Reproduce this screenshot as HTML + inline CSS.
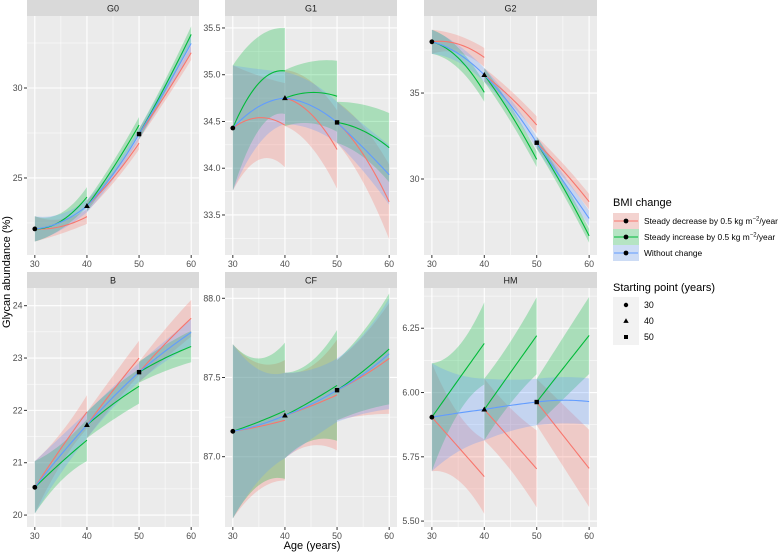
<!DOCTYPE html>
<html><head><meta charset="utf-8"><style>
body{margin:0;background:#fff;}
svg{display:block;font-family:"Liberation Sans",Arial,sans-serif;}
</style></head><body>
<svg id="chart" width="780" height="552" viewBox="0 0 780 552" xmlns="http://www.w3.org/2000/svg"></svg>
<script>
const panelNames=["G0","G1","G2","B","CF","HM"];
const yTicks=[[25,30],[33.5,34,34.5,35,35.5],[30,35],[20,21,22,23,24],[87,87.5,88],[5.5,5.75,6,6.25]];
const yTickLabels=[["25","30"],["33.5","34.0","34.5","35.0","35.5"],["30","35"],["20","21","22","23","24"],["87.0","87.5","88.0"],["5.50","5.75","6.00","6.25"]];
const yMinor=[[22.5,27.5,32.5],[33.25,33.75,34.25,34.75,35.25],[27.5,32.5,37.5],[20.5,21.5,22.5,23.5],[86.75,87.25,87.75],[5.625,5.875,6.125,6.375]];
const yDomains=[[20.72,34.0],[33.072,35.628],[25.58,39.48],[19.772,24.338],[86.556,88.065],[5.477,6.4065]];
const xTicks=[30,40,50,60];
const xMinor=[35,45,55];
const startAges=[30,40,50];
const startPts=[[22.17,23.44,27.44],[34.43,34.75,34.49],[37.98,36.05,32.11],[20.53,21.72,22.73],[87.16,87.26,87.42],[5.904,5.934,5.963]];
const redVals=[
 [[22.17,22.3,22.85],[23.44,25.0,26.93],[27.44,29.6,31.96]],
 [[34.43,34.54,34.46],[34.75,34.58,34.2],[34.49,34.15,33.64]],
 [[37.98,37.85,37.07],[36.05,34.75,33.14],[32.11,30.5,28.68]],
 [[20.53,21.27,21.97],[21.72,22.38,23.0],[22.73,23.27,23.76]],
 [[87.16,87.19,87.23],[87.26,87.32,87.39],[87.42,87.51,87.62]],
 [[5.904,5.789,5.673],[5.934,5.819,5.703],[5.963,5.834,5.705]]];
const greenVals=[
 [[22.17,22.6,23.94],[23.44,25.55,27.94],[27.44,30.1,32.98]],
 [[34.43,34.91,35.04],[34.75,34.81,34.77],[34.49,34.4,34.22]],
 [[37.98,37.05,35.04],[36.05,33.8,31.14],[32.11,29.55,26.69]],
 [[20.53,21.0,21.43],[21.72,22.12,22.46],[22.73,23.0,23.22]],
 [[87.16,87.22,87.29],[87.26,87.35,87.45],[87.42,87.54,87.68]],
 [[5.904,6.048,6.191],[5.934,6.078,6.221],[5.963,6.093,6.222]]];
const blueVals=[
 [22.17,22.55,23.44,25.2,27.44,29.9,32.48],
 [34.43,34.66,34.75,34.67,34.49,34.22,33.93],
 [37.98,37.3,36.05,34.3,32.11,29.9,27.71],
 [20.53,21.15,21.72,22.25,22.73,23.13,23.49],
 [87.16,87.2,87.26,87.33,87.42,87.52,87.65],
 [5.904,5.92,5.934,5.95,5.963,5.97,5.965]];
const redHW=[
 [[0.7,0.4,0.4],[0.3,0.3,0.35],[0.3,0.3,0.4]],
 [[0.67,0.45,0.45],[0.3,0.35,0.42],[0.22,0.3,0.4]],
 [[0.7,0.5,0.55],[0.4,0.4,0.5],[0.35,0.4,0.45]],
 [[0.5,0.3,0.32],[0.25,0.28,0.33],[0.2,0.28,0.35]],
 [[0.55,0.4,0.38],[0.27,0.25,0.35],[0.19,0.25,0.35]],
 [[0.21,0.13,0.145],[0.12,0.12,0.15],[0.09,0.12,0.15]]];
const greenHW=[
 [[0.7,0.45,0.55],[0.3,0.35,0.45],[0.3,0.35,0.45]],
 [[0.67,0.5,0.46],[0.3,0.33,0.38],[0.22,0.28,0.37]],
 [[0.7,0.6,0.55],[0.4,0.45,0.45],[0.35,0.4,0.4]],
 [[0.5,0.35,0.4],[0.25,0.3,0.33],[0.2,0.25,0.3]],
 [[0.55,0.4,0.43],[0.27,0.25,0.35],[0.19,0.25,0.35]],
 [[0.21,0.13,0.16],[0.12,0.12,0.15],[0.09,0.12,0.15]]];
const blueHW=[
 [0.7,0.45,0.35,0.3,0.3,0.35,0.45],
 [0.67,0.4,0.28,0.25,0.22,0.25,0.32],
 [0.7,0.5,0.4,0.35,0.35,0.4,0.45],
 [0.5,0.35,0.25,0.2,0.18,0.2,0.25],
 [0.55,0.35,0.27,0.22,0.2,0.25,0.35],
 [0.21,0.15,0.12,0.1,0.09,0.09,0.09]];
const seriesNames=["decrease","increase","no-change"];
const seriesColors=["#F8766D","#00BA38","#619CFF"];

const NS="http://www.w3.org/2000/svg";
const svg=document.getElementById("chart");
function mk(tag,attrs,parent){const e=document.createElementNS(NS,tag);for(const k in attrs)e.setAttribute(k,attrs[k]);(parent||svg).appendChild(e);return e;}
const colX=[[27,199],[225,397],[424,597]];
const rowY=[[16,255,0],[288,527,272]];
const xDom=[28.5,61.5];
function quad(v,t){const a=v[0],b=v[1],c=v[2];const s=t/10;return a*(1-s)*(1-2*s)+b*4*s*(1-s)+c*s*(2*s-1);}

panelNames.forEach((name,p)=>{
  const c=p%3,r=Math.floor(p/3);
  const [x0,x1]=colX[c];const [y0,y1,sy]=rowY[r];
  const X=v=>x0+(v-xDom[0])/(xDom[1]-xDom[0])*(x1-x0);
  const dom=yDomains[p];
  const Y=v=>y1-(v-dom[0])/(dom[1]-dom[0])*(y1-y0);
  const g=mk("g",{});
  
  
  const strip=mk("rect",{x:x0,y:sy,width:x1-x0,height:y0-sy,fill:"#D9D9D9"},g);
  
  
  const st=mk("text",{x:(x0+x1)/2,y:sy+11.5,"text-anchor":"middle","font-size":"9","fill":"#1A1A1A"},g);st.textContent=name;
  
  
  const bg=mk("rect",{x:x0,y:y0,width:x1-x0,height:y1-y0,fill:"#EBEBEB"},g);
  
  
  xMinor.forEach(v=>mk("line",{x1:X(v),x2:X(v),y1:y0,y2:y1,stroke:"#fff","stroke-width":0.5},g));
  yMinor[p].forEach(v=>{if(v>dom[0]&&v<dom[1])mk("line",{x1:x0,x2:x1,y1:Y(v),y2:Y(v),stroke:"#fff","stroke-width":0.5},g);});
  xTicks.forEach(v=>{
    mk("line",{x1:X(v),x2:X(v),y1:y0,y2:y1,stroke:"#fff","stroke-width":1.1},g);
    mk("line",{x1:X(v),x2:X(v),y1:y1,y2:y1+3,stroke:"#333","stroke-width":1},g);
    const t=mk("text",{x:X(v),y:y1+12,"text-anchor":"middle","font-size":"8.8",fill:"#4D4D4D"},g);t.textContent=v;
    
    
  });
  yTicks[p].forEach((v,i)=>{
    mk("line",{x1:x0,x2:x1,y1:Y(v),y2:Y(v),stroke:"#fff","stroke-width":1.1},g);
    mk("line",{x1:x0-3,x2:x0,y1:Y(v),y2:Y(v),stroke:"#333","stroke-width":1},g);
    const t=mk("text",{x:x0-4.5,y:Y(v)+3,"text-anchor":"end","font-size":"8.8",fill:"#4D4D4D"},g);t.textContent=yTickLabels[p][i];
    
    
  });
  const segs=[[],[],[]];
  for(let s=0;s<3;s++){
    segs[0].push({start:startAges[s],v:redVals[p][s],h:redHW[p][s]});
    segs[1].push({start:startAges[s],v:greenVals[p][s],h:greenHW[p][s]});
    const bv=blueVals[p],bh=blueHW[p];
    segs[2].push({start:startAges[s],v:[bv[2*s],bv[2*s+1],bv[2*s+2]],h:[bh[2*s],bh[2*s+1],bh[2*s+2]]});
  }
  const clipId="clip"+p;
  const cp=mk("clipPath",{id:clipId},g);mk("rect",{x:x0,y:y0,width:x1-x0,height:y1-y0},cp);
  const data=mk("g",{"clip-path":"url(#"+clipId+")"},g);
  segs.forEach((list,si)=>{list.forEach(sg=>{
    let up=[],dn=[];
    for(let k=0;k<=20;k++){const t=k/2;const m=quad(sg.v,t),h=quad(sg.h,t);
      up.push(X(sg.start+t).toFixed(2)+","+Y(m+h).toFixed(2));dn.unshift(X(sg.start+t).toFixed(2)+","+Y(m-h).toFixed(2));}
    const rb=mk("polygon",{points:up.concat(dn).join(" "),fill:seriesColors[si],"fill-opacity":0.28},data);
    
    
  });});
  segs.forEach((list,si)=>{list.forEach(sg=>{
    let pts=[];for(let k=0;k<=20;k++){const t=k/2;pts.push(X(sg.start+t).toFixed(2)+","+Y(quad(sg.v,t)).toFixed(2));}
    const ln=mk("polyline",{points:pts.join(" "),fill:"none",stroke:seriesColors[si],"stroke-width":1.1},data);
    
    
  });});
  startPts[p].forEach((v,i)=>{
    const px=X(startAges[i]),py=Y(v);let m;
    if(i===0)m=mk("circle",{cx:px,cy:py,r:2.4,fill:"#000"},g);
    else if(i===1)m=mk("polygon",{points:`${px},${py-3} ${px-2.9},${py+2} ${px+2.9},${py+2}`,fill:"#000"},g);
    else m=mk("rect",{x:px-2.2,y:py-2.2,width:4.4,height:4.4,fill:"#000"},g);
    
    
  });
});
const xt=mk("text",{x:312,y:549,"text-anchor":"middle","font-size":"11",fill:"#000"});xt.textContent="Age (years)";


const yt=mk("text",{x:0,y:0,transform:"translate(10,272) rotate(-90)","text-anchor":"middle","font-size":"11",fill:"#000"});yt.textContent="Glycan abundance (%)";


const lg=mk("g",{});


const lt=mk("text",{x:613,y:206,"font-size":"11",fill:"#000"},lg);lt.textContent="BMI change";
const legPre=["Steady decrease by 0.5 kg m","Steady increase by 0.5 kg m","Without change"];
const legSup=["\u22122","\u22122",""];
const legPost=["/year","/year",""];
legPre.forEach((lab,i)=>{
  const ey=213+i*16;
  const ent=mk("g",{},lg);
  
  
  mk("rect",{x:613,y:ey,width:26,height:16,fill:"#F2F2F2"},ent);
  mk("rect",{x:613,y:ey,width:26,height:16,fill:seriesColors[i],"fill-opacity":0.25},ent);
  mk("line",{x1:614,x2:638,y1:ey+8,y2:ey+8,stroke:seriesColors[i],"stroke-width":1.1},ent);
  mk("circle",{cx:626,cy:ey+8,r:2.4,fill:"#000"},ent);
  const t=mk("text",{x:644,y:ey+11,"font-size":"8.4",fill:"#000"},ent);
  const a=mk("tspan",{},t);a.textContent=lab;
  if(legSup[i]){
    const s=mk("tspan",{dy:"-3.5","font-size":"6"},t);s.textContent=legSup[i];
    const b=mk("tspan",{dy:"3.5"},t);b.textContent=legPost[i];
  }
});
const lg2=mk("g",{});


const lt2=mk("text",{x:613,y:291,"font-size":"11",fill:"#000"},lg2);lt2.textContent="Starting point (years)";
mk("rect",{x:613,y:297,width:26,height:48,fill:"#F2F2F2"},lg2);
startAges.forEach((a,i)=>{
  const ey=305+i*16,px=626;
  const ent=mk("g",{},lg2);
  
  
  if(i===0)mk("circle",{cx:px,cy:ey,r:2.2,fill:"#000"},ent);
  else if(i===1)mk("polygon",{points:`${px},${ey-2.8} ${px-2.7},${ey+1.9} ${px+2.7},${ey+1.9}`,fill:"#000"},ent);
  else mk("rect",{x:px-2,y:ey-2,width:4,height:4,fill:"#000"},ent);
  const t=mk("text",{x:644,y:ey+3,"font-size":"8.8",fill:"#000"},ent);t.textContent=a;
});
</script>
</body></html>
